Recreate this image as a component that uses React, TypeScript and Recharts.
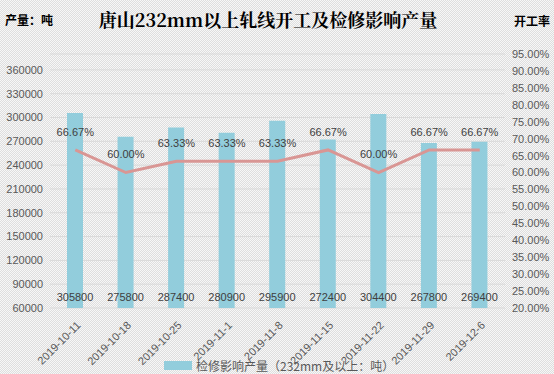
import { Bar, CartesianGrid, ComposedChart, LabelList, Line, XAxis, YAxis } from "recharts";

const dates = ["2019-10-11", "2019-10-18", "2019-10-25", "2019-11-1", "2019-11-8", "2019-11-15", "2019-11-22", "2019-11-29", "2019-12-6"];
const lostOutput = [305800, 275800, 287400, 280900, 295900, 272400, 304400, 267800, 269400];
const utilization = [66.67, 60.0, 63.33, 63.33, 63.33, 66.67, 60.0, 66.67, 66.67];
const leftTicks = [60000, 90000, 120000, 150000, 180000, 210000, 240000, 270000, 300000, 330000, 360000];
const rightTicks = [20, 25, 30, 35, 40, 45, 50, 55, 60, 65, 70, 75, 80, 85, 90, 95];

const data = dates.map((date, i) => ({ date, output: lostOutput[i], rate: utilization[i] }));

const FONT = "'Liberation Sans', 'Noto Sans CJK SC', sans-serif";
const BAR = "#92cddc";
const LINE = "#d99694";
const TEXT = "#595959";

function DateTick({ x, y, payload }: any) {
  return (
    <text
      x={x + 6}
      y={y + 10}
      transform={`rotate(-45 ${x + 6} ${y + 10})`}
      textAnchor="end"
      fontSize={11}
      fill={TEXT}
      fontFamily={FONT}
    >
      {payload.value}
    </text>
  );
}

function BarValue({ x, y, width, height, value }: any) {
  return (
    <text x={x + width / 2} y={y + height - 10} textAnchor="middle" dominantBaseline="middle" fontSize={11} fill="#404040" fontFamily={FONT}>
      {value}
    </text>
  );
}

function RateValue({ x, y, value }: any) {
  return (
    <text x={x} y={y - 17} textAnchor="middle" dominantBaseline="middle" fontSize={11} fill="#404040" fontFamily={FONT}>
      {value.toFixed(2)}%
    </text>
  );
}

export default function App() {
  return (
    <div
      style={{
        position: "absolute",
        left: 0,
        top: 0,
        width: 554,
        height: 374,
        fontFamily: FONT,
        backgroundColor: "#eeeeee",
        backgroundImage: "repeating-conic-gradient(#dedede 0% 25%, #f7f7f7 0% 50%)",
        backgroundSize: "2px 2px",
      }}
    >
      <div style={{ position: "absolute", left: 5, top: 11, fontSize: 12, fontWeight: "bold", color: "#000", fontFamily: "'Noto Sans CJK SC', sans-serif" }}>
        产量：吨
      </div>
      <div style={{ position: "absolute", left: 0, width: 536, top: 6, textAlign: "center", fontSize: 18, fontWeight: "bold", color: "#000", fontFamily: "'Noto Serif CJK SC', 'Noto Sans CJK SC', serif" }}>
        唐山232mm以上轧线开工及检修影响产量
      </div>
      <div style={{ position: "absolute", left: 514, top: 12, fontSize: 12, fontWeight: "bold", color: "#000", fontFamily: "'Noto Sans CJK SC', sans-serif" }}>
        开工率
      </div>
      <ComposedChart width={554} height={374} data={data} margin={{ top: 54, right: 0, bottom: 0, left: 0 }}>
        <CartesianGrid yAxisId="left" vertical={false} stroke="#d9d9d9" />
        <XAxis dataKey="date" height={66} axisLine={false} tickLine={false} tick={<DateTick />} interval={0} />
        <YAxis
          yAxisId="left"
          width={50}
          domain={[60000, 380000]}
          ticks={leftTicks}
          interval={0}
          axisLine={false}
          tickLine={false}
          tickSize={0}
          tickMargin={7}
          tick={{ fontSize: 11, fill: TEXT, fontFamily: FONT }}
        />
        <YAxis
          yAxisId="right"
          orientation="right"
          width={49}
          domain={[20, 95]}
          ticks={rightTicks}
          interval={0}
          axisLine={false}
          tickLine={false}
          tickSize={0}
          tickMargin={7}
          tickFormatter={(v: number) => `${v.toFixed(2)}%`}
          tick={{ fontSize: 11, fill: TEXT, fontFamily: FONT, textAnchor: "start" }}
        />
        <Bar yAxisId="left" dataKey="output" fill={BAR} barSize={16} isAnimationActive={false}>
          <LabelList dataKey="output" content={<BarValue />} />
        </Bar>
        <Line yAxisId="right" dataKey="rate" stroke={LINE} strokeWidth={3} dot={false} type="linear" isAnimationActive={false}>
          <LabelList dataKey="rate" content={<RateValue />} />
        </Line>
      </ComposedChart>
      <div style={{ position: "absolute", left: 164, top: 357, display: "flex", alignItems: "center", fontSize: 12, color: TEXT, fontFamily: "'Noto Sans CJK SC', sans-serif" }}>
        <span style={{ display: "inline-block", width: 28, height: 9, background: BAR, marginRight: 4 }} />
        检修影响产量（232mm及以上：吨）
      </div>
    </div>
  );
}
